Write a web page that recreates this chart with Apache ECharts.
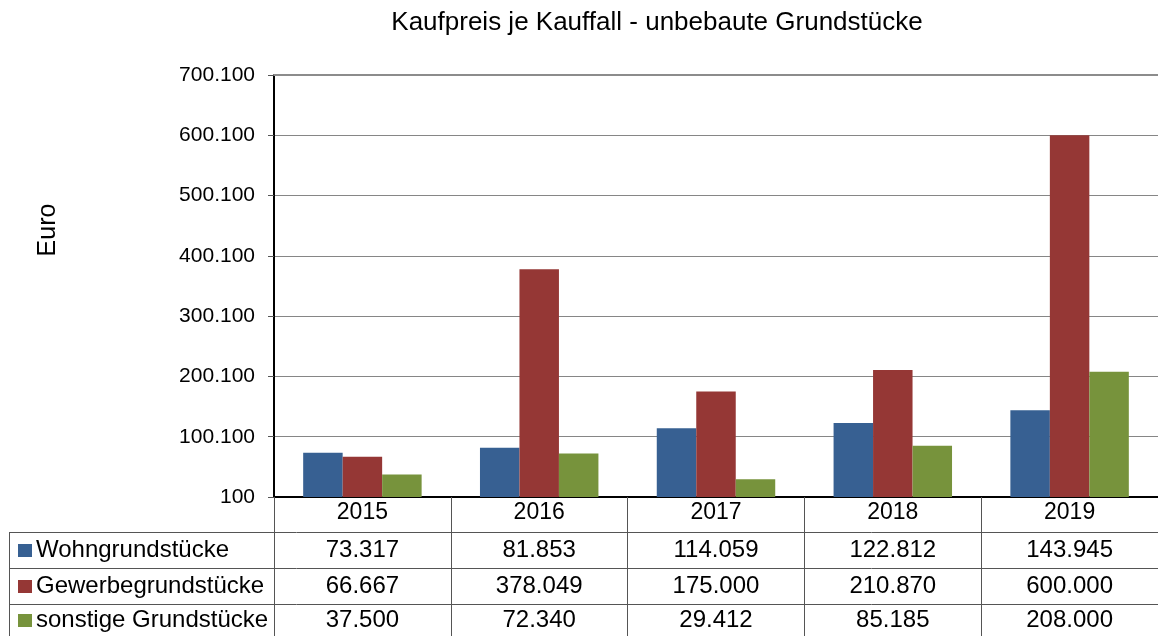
<!DOCTYPE html>
<html>
<head>
<meta charset="utf-8">
<script src="https://cdn.jsdelivr.net/npm/echarts@6/dist/echarts.min.js"></script>
<style>
html,body{margin:0;padding:0;background:#fff;}
#c{width:1158px;height:636px;}
</style>
</head>
<body>
<div id="c"></div>
<script>
var categories = ['2015', '2016', '2017', '2018', '2019'];
var seriesNames = ['Wohngrundstücke', 'Gewerbegrundstücke', 'sonstige Grundstücke'];
var wohn = [73317, 81853, 114059, 122812, 143945];
var gewerbe = [66667, 378049, 175000, 210870, 600000];
var sonstige = [37500, 72340, 29412, 85185, 208000];
var yTicks = { min: 100, max: 700100, interval: 100000 };
var colors = ['#376092', '#953735', '#77933C'];

var FONT = "'Liberation Sans', Arial, sans-serif";
function fmt(v) { return String(v).replace(/\B(?=(\d{3})+(?!\d))/g, '.'); }

var allData = [wohn, gewerbe, sonstige];
var chart = echarts.init(document.getElementById('c'));

var GL = 274, GT = 75, GB = 497;
var rowLines = [532, 568, 604];
var rowCenters = [550, 586, 620];

var xAxes = [{
  type: 'category', data: categories, position: 'bottom',
  axisLine: { show: true, lineStyle: { color: '#000', width: 2 } },
  axisTick: { show: true, length: 142, lineStyle: { color: '#555', width: 1 } },
  axisLabel: { color: '#000', fontSize: 23, fontFamily: FONT, margin: 4, lineHeight: 23 },
  splitLine: { show: false }
}, {
  type: 'category', data: categories, position: 'top',
  axisLine: { show: true, lineStyle: { color: '#8c8c8c', width: 2 } },
  axisTick: { show: false }, axisLabel: { show: false }
}];
allData.forEach(function (arr, i) {
  xAxes.push({
    type: 'category', data: arr.map(fmt), position: 'bottom',
    offset: rowLines[i] - GB,
    axisLine: { show: false }, axisTick: { show: false },
    axisLabel: { color: '#000', fontSize: 24, fontFamily: FONT, margin: rowCenters[i] - rowLines[i] - 12, lineHeight: 24 }
  });
});

var graphics = [
  { type: 'text', x: 657, y: 23, style: { text: 'Kaufpreis je Kauffall - unbebaute Grundstücke', fontSize: 26, fontFamily: FONT, fill: '#000', align: 'center', verticalAlign: 'middle' } },
  { type: 'text', x: 48, y: 230, rotation: Math.PI / 2, style: { text: 'Euro', fontSize: 25, fontFamily: FONT, fill: '#000', align: 'center', verticalAlign: 'middle' } },
  { type: 'line', shape: { x1: 9.5, y1: rowLines[0], x2: 9.5, y2: 640 }, style: { stroke: '#555', lineWidth: 1 } }
];
rowLines.forEach(function (y) {
  graphics.push({ type: 'line', shape: { x1: 9, y1: y + 0.5, x2: 1160, y2: y + 0.5 }, style: { stroke: '#555', lineWidth: 1 } });
});
seriesNames.forEach(function (n, i) {
  graphics.push({ type: 'rect', shape: { x: 18, y: rowCenters[i] - 6, width: 14, height: 13 }, style: { fill: colors[i] } });
  graphics.push({ type: 'text', x: 36, y: rowCenters[i], style: { text: n, fontSize: 24, fontFamily: FONT, fill: '#000', align: 'left', verticalAlign: 'middle' } });
});

chart.setOption({
  animation: false,
  color: colors,
  grid: { left: GL, right: -2, top: GT, bottom: 636 - GB, containLabel: false },
  xAxis: xAxes,
  yAxis: {
    type: 'value', min: yTicks.min, max: yTicks.max, interval: yTicks.interval,
    axisLine: { show: true, lineStyle: { color: '#000', width: 2 } },
    axisTick: { show: true, length: 6, lineStyle: { color: '#555' } },
    axisLabel: { color: '#000', fontSize: 21, fontFamily: FONT, margin: 19, formatter: fmt },
    splitLine: { show: true, lineStyle: { color: '#868686', width: 1 } }
  },
  series: allData.map(function (arr, i) {
    return { name: seriesNames[i], type: 'bar', data: arr, xAxisIndex: 0, barGap: '0%', barCategoryGap: '33%', itemStyle: { color: colors[i] } };
  }),
  graphic: graphics
});
</script>
</body>
</html>
